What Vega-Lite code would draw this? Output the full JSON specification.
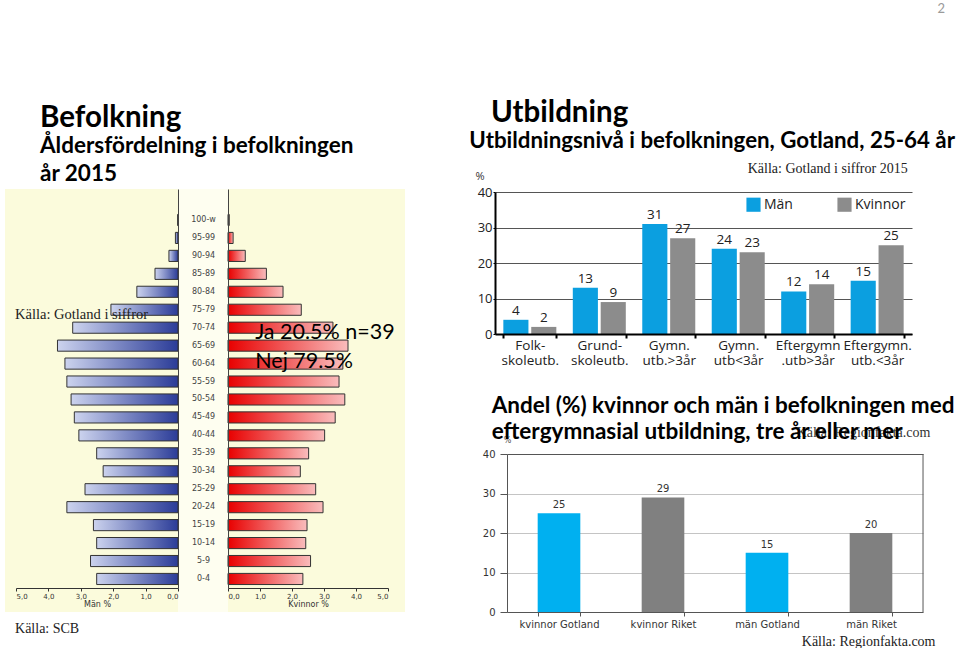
{
  "$schema": "https://vega.github.io/schema/vega-lite/v6.json",
  "background": "white",
  "padding": {"left": 5, "top": 2, "right": 0, "bottom": 0},
  "title": {"text": "2", "anchor": "end", "offset": 82, "dx": -10, "font": "Lato", "fontSize": 13, "fontWeight": "normal", "color": "#9a9a9a"},
  "spacing": 90,
  "bounds": "flush",
  "config": {"view": {"stroke": null}},
  "datasets": {
    "pyramid": [
      {"alder": "100-w", "man": 0.01, "kvinnor": 0.04},
      {"alder": "95-99", "man": 0.08, "kvinnor": 0.16},
      {"alder": "90-94", "man": 0.28, "kvinnor": 0.54},
      {"alder": "85-89", "man": 0.71, "kvinnor": 1.2},
      {"alder": "80-84", "man": 1.27, "kvinnor": 1.72},
      {"alder": "75-79", "man": 2.07, "kvinnor": 2.29},
      {"alder": "70-74", "man": 3.25, "kvinnor": 3.28},
      {"alder": "65-69", "man": 3.72, "kvinnor": 3.75},
      {"alder": "60-64", "man": 3.49, "kvinnor": 3.59},
      {"alder": "55-59", "man": 3.43, "kvinnor": 3.47},
      {"alder": "50-54", "man": 3.3, "kvinnor": 3.65},
      {"alder": "45-49", "man": 3.2, "kvinnor": 3.35},
      {"alder": "40-44", "man": 3.06, "kvinnor": 3.02},
      {"alder": "35-39", "man": 2.51, "kvinnor": 2.52},
      {"alder": "30-34", "man": 2.31, "kvinnor": 2.26},
      {"alder": "25-29", "man": 2.87, "kvinnor": 2.74},
      {"alder": "20-24", "man": 3.43, "kvinnor": 2.97},
      {"alder": "15-19", "man": 2.61, "kvinnor": 2.47},
      {"alder": "10-14", "man": 2.51, "kvinnor": 2.43},
      {"alder": "5-9", "man": 2.7, "kvinnor": 2.58},
      {"alder": "0-4", "man": 2.51, "kvinnor": 2.34}
    ],
    "utb": [
      {"niva": "Folk- skoleutb.", "kon": "Män", "andel": 4},
      {"niva": "Folk- skoleutb.", "kon": "Kvinnor", "andel": 2},
      {"niva": "Grund- skoleutb.", "kon": "Män", "andel": 13},
      {"niva": "Grund- skoleutb.", "kon": "Kvinnor", "andel": 9},
      {"niva": "Gymn. utb.>3år", "kon": "Män", "andel": 31},
      {"niva": "Gymn. utb.>3år", "kon": "Kvinnor", "andel": 27},
      {"niva": "Gymn. utb<3år", "kon": "Män", "andel": 24},
      {"niva": "Gymn. utb<3år", "kon": "Kvinnor", "andel": 23},
      {"niva": "Eftergymn .utb>3år", "kon": "Män", "andel": 12},
      {"niva": "Eftergymn .utb>3år", "kon": "Kvinnor", "andel": 14},
      {"niva": "Eftergymn. utb.<3år", "kon": "Män", "andel": 15},
      {"niva": "Eftergymn. utb.<3år", "kon": "Kvinnor", "andel": 25}
    ],
    "utb2": [
      {"grupp": "kvinnor Gotland", "region": "Gotland", "andel": 25},
      {"grupp": "kvinnor Riket", "region": "Riket", "andel": 29},
      {"grupp": "män Gotland", "region": "Gotland", "andel": 15},
      {"grupp": "män Riket", "region": "Riket", "andel": 20}
    ]
  },
  "hconcat": [
    {
      "width": 400,
      "height": 423,
      "view": {"fill": "#fbfbdc", "stroke": null},
      "title": {"text": "Befolkning", "subtitle": ["Åldersfördelning i befolkningen", "år 2015"], "anchor": "start", "frame": "group", "dx": 35, "offset": 3, "font": "Lato", "fontSize": 29.5, "fontWeight": "bold", "color": "black", "subtitleFont": "Lato", "subtitleFontSize": 22.5, "subtitleFontWeight": "bold", "subtitleColor": "black", "subtitleLineHeight": 28, "subtitlePadding": 1},
      "layer": [
        {
          "layer": [
            {
              "data": {"values": [{"kolumn": "ålder"}]},
              "mark": {"type": "rect", "fill": "#fefef0"},
              "encoding": {"x": {"datum": -1.5625, "type": "quantitative"}, "x2": {"datum": 0}}
            },
            {
              "data": {"name": "pyramid"},
              "mark": {"type": "bar", "stroke": "#333333", "strokeWidth": 1, "fill": {"gradient": "linear", "x1": 0, "y1": 0, "x2": 1, "y2": 0, "stops": [{"offset": 0, "color": "#e80000"}, {"offset": 1, "color": "#f9bcbc"}]}},
              "encoding": {
                "y": {"field": "alder", "type": "nominal", "sort": null,
                  "scale": {"domain": ["100-w","95-99","90-94","85-89","80-84","75-79","70-74","65-69","60-64","55-59","50-54","45-49","40-44","35-39","30-34","25-29","20-24","15-19","10-14","5-9","0-4"], "range": [0, 399], "paddingInner": 0.38, "paddingOuter": 0.805, "align": 0.88},
                  "axis": {"orient": "left", "offset": -223, "zindex": 1, "domain": true, "domainColor": "#444444", "ticks": false, "labels": true, "labelAlign": "center", "labelBaseline": "middle", "labelPadding": 25, "labelFont": "DejaVu Sans", "labelFontSize": 8, "labelColor": "#444444", "title": null, "grid": false}},
                "x": {"field": "kvinnor", "type": "quantitative",
                  "scale": {"domain": [0, 5], "range": [223, 383]},
                  "axis": {"orient": "bottom", "offset": -24, "zindex": 1, "values": [0, 1, 2, 3, 4, 5], "labelExpr": "replace(format(datum.value, '.1f'), '.', ',')", "labelFont": "DejaVu Sans", "labelFontSize": 7, "labelColor": "#333333", "labelPadding": 1, "tickSize": 3, "tickColor": "#333333", "domainColor": "#333333", "grid": false, "title": "Kvinnor %", "titleFont": "DejaVu Sans", "titleFontSize": 8, "titleFontWeight": "normal", "titleColor": "#333333", "titlePadding": 1}}
              }
            },
            {
              "data": {"values": [{"text": ["Ja 20.5% n=39", "Nej 79.5%"]}]},
              "mark": {"type": "text", "align": "left", "baseline": "alphabetic", "dy": 11, "lineHeight": 29, "font": "Lato", "fontSize": 21.5, "color": "black"},
              "encoding": {"x": {"datum": 0.85, "type": "quantitative"}, "y": {"datum": "70-74", "type": "nominal"}, "text": {"field": "text"}}
            }
          ]
        },
        {
          "layer": [
            {
              "data": {"name": "pyramid"},
              "mark": {"type": "bar", "stroke": "#333333", "strokeWidth": 1, "fill": {"gradient": "linear", "x1": 0, "y1": 0, "x2": 1, "y2": 0, "stops": [{"offset": 0, "color": "#ccd3ee"}, {"offset": 1, "color": "#2b3c98"}]}},
              "encoding": {
                "y": {"field": "alder", "type": "nominal", "sort": null,
                  "scale": {"domain": ["100-w","95-99","90-94","85-89","80-84","75-79","70-74","65-69","60-64","55-59","50-54","45-49","40-44","35-39","30-34","25-29","20-24","15-19","10-14","5-9","0-4"], "range": [0, 399], "paddingInner": 0.38, "paddingOuter": 0.805, "align": 0.88},
                  "axis": {"orient": "left", "offset": -173, "zindex": 1, "domain": true, "domainColor": "#444444", "ticks": false, "labels": false, "title": null, "grid": false}},
                "x": {"field": "man", "type": "quantitative",
                  "scale": {"domain": [0, 5], "range": [173, 11]},
                  "axis": {"orient": "bottom", "offset": -24, "zindex": 1, "values": [0, 1, 2, 3, 4, 5], "labelExpr": "replace(format(datum.value, '.1f'), '.', ',')", "labelFont": "DejaVu Sans", "labelFontSize": 7, "labelColor": "#333333", "labelPadding": 1, "tickSize": 3, "tickColor": "#333333", "domainColor": "#333333", "grid": false, "title": "Män %", "titleFont": "DejaVu Sans", "titleFontSize": 8, "titleFontWeight": "normal", "titleColor": "#333333", "titlePadding": 1}}
              }
            },
            {
              "data": {"values": [{"text": "Källa: Gotland i siffror"}]},
              "mark": {"type": "text", "align": "left", "baseline": "middle", "dy": 5, "font": "Liberation Serif", "fontSize": 14.5, "color": "#222222"},
              "encoding": {"x": {"datum": 5.03, "type": "quantitative"}, "y": {"datum": "75-79", "type": "nominal"}, "text": {"field": "text"}}
            },
            {
              "data": {"values": [{"text": "Källa: SCB"}]},
              "mark": {"type": "text", "align": "left", "baseline": "alphabetic", "dy": 54, "font": "Liberation Serif", "fontSize": 14, "color": "#222222"},
              "encoding": {"x": {"datum": 5.03, "type": "quantitative"}, "y": {"datum": "0-4", "type": "nominal"}, "text": {"field": "text"}}
            }
          ]
        }
      ],
      "resolve": {"scale": {"x": "independent", "y": "independent"}, "axis": {"x": "independent", "y": "independent"}}
    },
    {
      "width": 428,
      "height": 423,
      "view": {"stroke": null},
      "title": {"text": "Utbildning", "anchor": "start", "frame": "group", "dx": -4, "offset": 2, "font": "Lato", "fontSize": 29.5, "fontWeight": "bold", "color": "black"},
      "layer": [
        {
          "layer": [
            {
              "data": {"name": "utb"},
              "mark": {"type": "bar"},
              "encoding": {
                "x": {"field": "niva", "type": "nominal", "sort": null,
                  "scale": {"domain": ["Folk- skoleutb.", "Grund- skoleutb.", "Gymn. utb.>3år", "Gymn. utb<3år", "Eftergymn .utb>3år", "Eftergymn. utb.<3år"], "range": [0, 417], "paddingInner": 0.237, "paddingOuter": 0.12},
                  "axis": {"orient": "bottom", "offset": -278, "zindex": 1, "title": null, "labelAngle": 0, "labelExpr": "split(datum.label, ' ')", "labelFont": "Open Sans", "labelFontSize": 13.5, "labelColor": "#222222", "labelLineHeight": 15, "labelPadding": 0, "labelBaseline": "top", "domainColor": "black", "domainWidth": 2, "tickBand": "extent", "tickColor": "black", "tickWidth": 2, "tickSize": 4, "grid": false}},
                "xOffset": {"field": "kon", "type": "nominal", "scale": {"domain": ["Män", "Kvinnor"], "paddingInner": 0.1, "paddingOuter": 0}},
                "y": {"field": "andel", "type": "quantitative",
                  "scale": {"domain": [0, 40], "range": [145, 3]},
                  "axis": {"orient": "left", "values": [0, 10, 20, 30, 40], "grid": true, "gridColor": "#555555", "gridWidth": 1, "domainColor": "black", "domainWidth": 2, "tickColor": "black", "tickSize": 2, "labelFont": "Open Sans", "labelFontSize": 13, "labelColor": "#222222", "labelPadding": 1, "title": "%", "titleAngle": 0, "titleX": -20, "titleY": -13, "titleAlign": "left", "titleBaseline": "middle", "titleFont": "Open Sans", "titleFontSize": 11, "titleFontWeight": "normal", "titleColor": "#333333"}},
                "color": {"field": "kon", "type": "nominal",
                  "scale": {"domain": ["Män", "Kvinnor"], "range": ["#0b9fe0", "#8c8c8c"]},
                  "legend": {"orient": "none", "legendX": 251, "legendY": 8, "direction": "horizontal", "title": null, "symbolType": "square", "symbolSize": 200, "symbolStrokeWidth": 0, "labelFont": "Open Sans", "labelFontSize": 14, "labelColor": "#222222", "columnPadding": 44, "labelOffset": 3}}
              }
            },
            {
              "data": {"name": "utb"},
              "mark": {"type": "text", "baseline": "alphabetic", "dy": -5, "font": "Open Sans", "fontSize": 13.5, "color": "#222222"},
              "encoding": {
                "x": {"field": "niva", "type": "nominal", "sort": null},
                "xOffset": {"field": "kon", "type": "nominal"},
                "y": {"field": "andel", "type": "quantitative"},
                "text": {"field": "andel", "type": "quantitative"}
              }
            },
            {
              "data": {"values": [{"text": "Utbildningsnivå i befolkningen, Gotland, 25-64 år"}]},
              "mark": {"type": "text", "align": "left", "baseline": "alphabetic", "dx": -34, "dy": -44, "font": "Lato", "fontSize": 22.3, "fontWeight": "bold", "color": "black"},
              "encoding": {"x": {"datum": "Folk- skoleutb.", "type": "nominal", "bandPosition": 0}, "y": {"datum": 40, "type": "quantitative"}, "text": {"field": "text"}}
            },
            {
              "data": {"values": [{"text": "Källa: Gotland i siffror 2015"}]},
              "mark": {"type": "text", "align": "right", "baseline": "alphabetic", "dx": 4, "dy": -19, "font": "Liberation Serif", "fontSize": 14, "color": "#222222"},
              "encoding": {"x": {"datum": "Eftergymn. utb.<3år", "type": "nominal", "bandPosition": 1}, "y": {"datum": 40, "type": "quantitative"}, "text": {"field": "text"}}
            }
          ]
        },
        {
          "layer": [
            {
              "data": {"name": "utb2"},
              "mark": {"type": "bar"},
              "encoding": {
                "x": {"field": "grupp", "type": "nominal", "sort": null,
                  "scale": {"domain": ["kvinnor Gotland", "kvinnor Riket", "män Gotland", "män Riket"], "range": [12, 428], "paddingInner": 0.59, "paddingOuter": 0.295},
                  "axis": {"orient": "bottom", "labelAngle": 0, "labelFont": "DejaVu Sans", "labelFontSize": 10, "labelColor": "#333333", "labelPadding": 3, "domainColor": "#555555", "tickBand": "extent", "tickColor": "#555555", "tickSize": 4, "grid": false, "title": "Källa: Regionfakta.com", "titleFont": "Liberation Serif", "titleFontSize": 14, "titleFontWeight": "normal", "titleColor": "#222222", "titleX": 440, "titleY": 33, "titleAlign": "right", "titleBaseline": "alphabetic"}},
                "y": {"field": "andel", "type": "quantitative",
                  "scale": {"domain": [0, 40], "range": [423, 265]},
                  "axis": {"orient": "left", "offset": -12, "values": [0, 10, 20, 30, 40], "grid": true, "gridColor": {"condition": {"test": "datum.value === 40", "value": "#555555"}, "value": "#c4c4c4"}, "domainColor": "#555555", "tickColor": "#555555", "tickSize": 7, "labelFont": "DejaVu Sans", "labelFontSize": 10, "labelColor": "#333333", "labelPadding": 5, "title": "%", "titleAngle": 0, "titleX": 0, "titleY": 251, "titleAlign": "center", "titleBaseline": "middle", "titleFont": "DejaVu Sans", "titleFontSize": 8, "titleFontWeight": "normal", "titleColor": "#555555"}},
                "color": {"field": "region", "type": "nominal", "scale": {"domain": ["Gotland", "Riket"], "range": ["#00b0f0", "#808080"]}, "legend": null}
              }
            },
            {
              "data": {"name": "utb2"},
              "mark": {"type": "text", "baseline": "alphabetic", "dy": -5, "font": "DejaVu Sans", "fontSize": 10, "color": "#333333"},
              "encoding": {
                "x": {"field": "grupp", "type": "nominal", "sort": null},
                "y": {"field": "andel", "type": "quantitative"},
                "text": {"field": "andel", "type": "quantitative"}
              }
            },
            {
              "data": {"values": [{"kant": "höger"}]},
              "mark": {"type": "rule", "color": "#555555"},
              "encoding": {"x": {"datum": "män Riket", "type": "nominal", "bandPosition": 1.72}, "y": {"datum": 0, "type": "quantitative"}, "y2": {"datum": 40}}
            },
            {
              "data": {"values": [{"text": "Källa: Regionfakta.com"}]},
              "mark": {"type": "text", "align": "left", "baseline": "alphabetic", "dx": -53, "dy": -17, "font": "Liberation Serif", "fontSize": 14, "color": "#333333"},
              "encoding": {"x": {"datum": "män Riket", "type": "nominal", "bandPosition": 0}, "y": {"datum": 40, "type": "quantitative"}, "text": {"field": "text"}}
            },
            {
              "data": {"values": [{"text": ["Andel (%) kvinnor och män i befolkningen med", "eftergymnasial utbildning, tre år eller mer"]}]},
              "mark": {"type": "text", "align": "left", "baseline": "alphabetic", "dx": -46, "dy": -41, "lineHeight": 26, "font": "Lato", "fontSize": 22.5, "fontWeight": "bold", "color": "black"},
              "encoding": {"x": {"datum": "kvinnor Gotland", "type": "nominal", "bandPosition": 0}, "y": {"datum": 40, "type": "quantitative"}, "text": {"field": "text"}}
            }
          ]
        }
      ],
      "resolve": {"scale": {"x": "independent", "y": "independent", "color": "independent", "xOffset": "independent"}, "axis": {"x": "independent", "y": "independent"}, "legend": {"color": "independent"}}
    }
  ]
}
